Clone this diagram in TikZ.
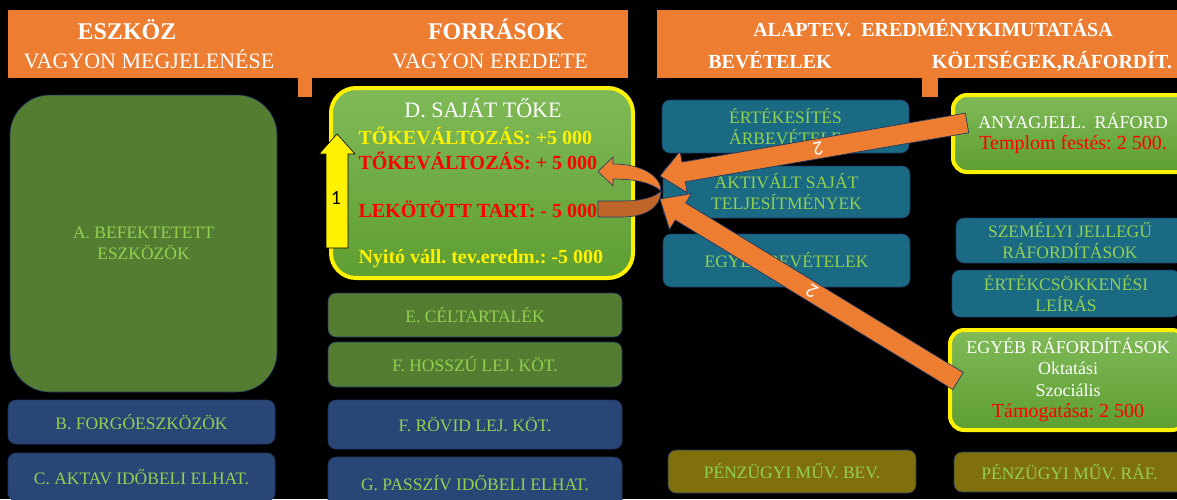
\documentclass[tikz,border=0pt]{standalone}
\usepackage{fontspec}
\setmainfont{Liberation Serif}
\newfontfamily\numfont{Carlito}
\usetikzlibrary{calc}
\frenchspacing

\definecolor{hdrorange}{HTML}{ED7D31}
\definecolor{boxgreen}{HTML}{557D32}
\definecolor{boxblue}{HTML}{2A4677}
\definecolor{boxteal}{HTML}{1B6A84}
\definecolor{boxolive}{HTML}{7F700C}
\definecolor{lbltext}{HTML}{92D050}
\definecolor{edgenavy}{HTML}{203864}
\definecolor{hitop}{HTML}{80BA58}
\definecolor{hibot}{HTML}{5E9E32}
\definecolor{curvedark}{HTML}{C0652A}

% style, tail, tip, half shaft, half head, head length
\newcommand{\blockarrow}[6]{%
  \coordinate (hb) at ($(#3)!#6!(#2)$);
  \draw[#1] ($(#2)!#4!90:(#3)$) -- ($(hb)!#4!90:(#3)$) -- ($(hb)!#5!90:(#3)$)
    -- (#3) -- ($(hb)!#5!-90:(#3)$) -- ($(hb)!#4!-90:(#3)$) -- ($(#2)!#4!-90:(#3)$) -- cycle;}

\begin{document}
\begin{tikzpicture}
    [
    x=1pt, y=-1pt,
    hdr/.style={fill=hdrorange, draw=none},
    hbold/.style={anchor=base, text=white, font=\bfseries\fontsize{24}{28}\selectfont},
    hreg/.style={anchor=base, text=white, font=\fontsize{22}{26}\selectfont},
    hbsmall/.style={anchor=base, text=white, font=\bfseries\fontsize{20}{24}\selectfont},
    box/.style={draw=edgenavy, line width=0.6pt, rounded corners=8pt, inner sep=0pt,
      text=lbltext, align=center, font=\fontsize{17.5}{21}\selectfont},
    greenbox/.style={box, fill=boxgreen},
    bluebox/.style={box, fill=boxblue},
    tealbox/.style={box, fill=boxteal},
    olivebox/.style={box, fill=boxolive},
    hibox/.style={draw=yellow, line width=4pt, rounded corners=14pt, top color=hitop,
      bottom color=hibot, inner sep=0pt, align=center, text=white, font=\fontsize{18}{21.5}\selectfont},
    dline/.style={anchor=base west, font=\bfseries\fontsize{20}{24}\selectfont},
    bigarr/.style={fill=hdrorange, draw=edgenavy, line width=0.7pt},
    uparr/.style={fill=yellow, draw=black, line width=0.6pt},
    numlbl/.style={font=\numfont\fontsize{20}{24}\selectfont}
    ]
\useasboundingbox (0,0) rectangle (1177,499);
\fill[black] (0,0) rectangle (1177,499);
\clip (0,0) rectangle (1177,499);

% headers
\fill[hdr] (8,10) rectangle (628,78);
\fill[hdr] (298,78) rectangle (312,97);
\fill[hdr] (657,10) rectangle (1190,78);
\fill[hdr] (922,78) rectangle (938,97);
\node[hbold] (eszkoz) at (127,39.5) {ESZKÖZ};
\node[hreg] (megjel) at (149,68) {VAGYON MEGJELENÉSE};
\node[hbold] (forras) at (496,39.5) {FORRÁSOK};
\node[hreg] (eredet) at (490,68) {VAGYON EREDETE};
\node[hbsmall] (alaptev) at (933,36) {ALAPTEV.\ \ EREDMÉNYKIMUTATÁSA};
\node[hbsmall] (bevet) at (770,68) {BEVÉTELEK};
\node[hbsmall] (koltseg) at (1052,68) {KÖLTSÉGEK,RÁFORDÍT.};

% eszkozok
\node[greenbox, rounded corners=40pt, minimum width=267pt, minimum height=297pt] (befekt) at (143.5,243.5) {A. BEFEKTETETT\\ESZKÖZÖK};
\node[bluebox, minimum width=267pt, minimum height=44pt] (forgo) at (141.5,422) {B. FORGÓESZKÖZÖK};
\node[bluebox, minimum width=267pt, minimum height=48pt] (aktiv) at (141.5,477) {C. AKTAV IDŐBELI ELHAT.};

% forrasok
\node[hibox, rounded corners=25pt, minimum width=302pt, minimum height=190pt] (tokeD) at (482,183) {};
\node[anchor=base, text=white, font=\fontsize{22}{26}\selectfont] (tokecim) at (483,117) {D. SAJÁT TŐKE};
\node[dline, text=yellow] (valt1) at (355,144) {TŐKEVÁLTOZÁS: +5 000};
\node[dline, text=red] (valt2) at (355,169) {TŐKEVÁLTOZÁS: + 5 000};
\node[dline, text=red] (lekot) at (355,217) {LEKÖTÖTT TART: - 5 000};
\node[dline, text=yellow] (nyito) at (355,263) {Nyitó váll. tev.eredm.: -5 000};
\node[greenbox, minimum width=294pt, minimum height=44pt] (celt) at (475,315) {E. CÉLTARTALÉK};
\node[greenbox, minimum width=294pt, minimum height=45pt] (hosszu) at (475,364.5) {F. HOSSZÚ LEJ. KÖT.};
\node[bluebox, minimum width=294pt, minimum height=49pt] (rovid) at (475,424.5) {F. RÖVID LEJ. KÖT.};
\node[bluebox, minimum width=294pt, minimum height=52pt] (passziv) at (475,483) {G. PASSZÍV IDŐBELI ELHAT.};

% bevetelek
\node[tealbox, minimum width=247pt, minimum height=53pt] (arbev) at (785.5,126.5) {ÉRTÉKESÍTÉS\\ÁRBEVÉTELE};
\node[tealbox, minimum width=247pt, minimum height=52pt] (aktival) at (786.5,192) {AKTIVÁLT SAJÁT\\TELJESÍTMÉNYEK};
\node[tealbox, minimum width=247pt, minimum height=53pt] (egybev) at (786.5,260.5) {EGYÉB BEVÉTELEK};
\node[olivebox, minimum width=248pt, minimum height=43pt] (penzbev) at (792,471.5) {PÉNZÜGYI MŰV. BEV.};

% raforditasok
\node[hibox, minimum width=240pt, minimum height=77pt] (anyag) at (1073,133.5) {ANYAGJELL.\ \ RÁFORD\\{\color{red}\fontsize{20}{21.5}\selectfont Templom festés: 2 500.}};
\node[tealbox, minimum width=228pt, minimum height=45pt] (szemelyi) at (1070,240.5) {SZEMÉLYI JELLEGŰ\\RÁFORDÍTÁSOK};
\node[tealbox, minimum width=228pt, minimum height=47pt] (ecs) at (1066,293.5) {ÉRTÉKCSÖKKENÉSI\\LEÍRÁS};
\node[hibox, minimum width=236pt, minimum height=100pt] (egyraf) at (1068,380) {EGYÉB RÁFORDÍTÁSOK\\Oktatási\\Szociális\\{\color{red}\fontsize{20}{21.5}\selectfont Támogatása: 2 500}};
\node[olivebox, minimum width=231pt, minimum height=40pt] (penzraf) at (1069.5,472) {PÉNZÜGYI MŰV. RÁF.};

% visszafordulo nyil
\filldraw[fill=curvedark, draw=edgenavy, line width=0.6pt] (598,201) -- (622,201) .. controls (642,201) and (655,197) .. (661,191)
  .. controls (661,207) and (646,217) .. (622,217) -- (598,217) -- cycle;
\filldraw[fill=hdrorange, draw=edgenavy, line width=0.6pt] (613,164) .. controls (642,164) and (661,176) .. (661,191)
  .. controls (652,183) and (636,179) .. (613,179) -- (613,186) -- (598,171.5) -- (613,157) -- cycle;

% nyilak
\coordinate (tailY) at (337,248);
\coordinate (tipY) at (337,134);
\coordinate (tailA) at (967,123);
\coordinate (tipA) at (660,176);
\coordinate (tailB) at (958,381);
\coordinate (tipB) at (660,199);
\blockarrow{uparr}{tailY}{tipY}{11pt}{18pt}{20pt}
\blockarrow{bigarr}{tailA}{tipA}{10pt}{21pt}{24pt}
\blockarrow{bigarr}{tailB}{tipB}{10pt}{21pt}{24pt}
\node[numlbl, text=black] (egy) at (336,198) {1};
\path (tailA) -- node[numlbl, text=white, sloped, allow upside down, pos=0.485] (ketA) {2} (tipA);
\path (tailB) -- node[numlbl, text=white, sloped, allow upside down, pos=0.49] (ketB) {2} (tipB);
\end{tikzpicture}
\end{document}
